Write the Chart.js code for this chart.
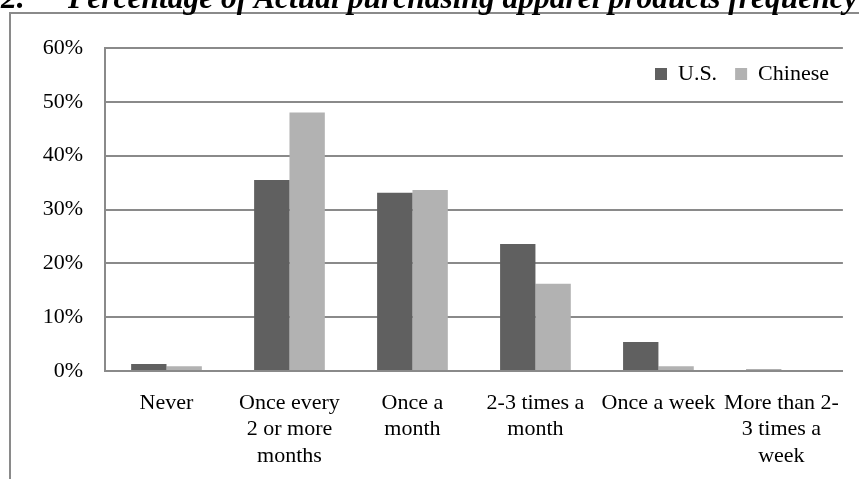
<!DOCTYPE html>
<html>
<head>
<meta charset="utf-8">
<script src="https://cdn.jsdelivr.net/npm/chart.js"></script>
<style>
  body { margin: 0; background: #fff; }
  #wrap { position: relative; width: 859px; height: 479px; overflow: hidden; }
  .title { position: absolute; top: -18px; font-family: "Liberation Serif", serif; font-weight: bold; font-style: italic; font-size: 31.5px; line-height: 31.5px; white-space: nowrap; color: #000; }
  canvas { position: absolute; left: 0; top: 0; }
</style>
</head>
<body>
<div id="wrap">
  <canvas id="myChart" width="859" height="479"></canvas>
  <div class="title" style="left:1px">2.</div>
  <div class="title" style="left:68px">Percentage of Actual purchasing apparel products frequency</div>
</div>
<script>
// data
const categories = [
    ['Never'],
    ['Once every', '2 or more', 'months'],
    ['Once a', 'month'],
    ['2-3 times a', 'month'],
    ['Once a week'],
    ['More than 2-', '3 times a', 'week']
];
const usValues = [1.3, 35.5, 33.1, 23.6, 5.4, 0.3];
const chineseValues = [0.9, 48.0, 33.6, 16.2, 0.9, 0];
const yTicks = [0, 10, 20, 30, 40, 50, 60];

const serif = 'Liberation Serif';
const gridColor = '#8a8a8a';

// outer frame (left + top lines of the figure box)
const framePlugin = {
    id: 'frame',
    beforeDraw(chart) {
        const c = chart.ctx;
        c.save();
        c.strokeStyle = gridColor;
        c.lineWidth = 2;
        c.beginPath();
        c.moveTo(10, 479);
        c.lineTo(10, 13);
        c.lineTo(859, 13);
        c.stroke();
        c.restore();
    }
};

// legend sits inside the plot, top right -> move it down after layout
const legendMove = {
    id: 'legendMove',
    afterLayout(chart) {
        const lg = chart.legend;
        if (!lg) return;
        const dy = 74 - (lg.top + 18 + 11);
        lg.top += dy;
        lg.bottom += dy;
        lg.left += 2;
        lg.right += 2;
    }
};

const ctx = document.getElementById('myChart');

const config = {
    type: 'bar',
    data: {
        labels: categories,
        datasets: [{
            label: 'U.S.',
            data: usValues,
            backgroundColor: '#606060',
            categoryPercentage: 0.575,
            barPercentage: 1.0
        }, {
            label: 'Chinese',
            data: chineseValues,
            backgroundColor: '#b2b2b2',
            categoryPercentage: 0.575,
            barPercentage: 1.0
        }]
    },
    plugins: [framePlugin, legendMove],
    options: {
        responsive: false,
        animation: false,
        layout: {
            padding: { top: -2, right: 14, bottom: 0, left: 0 }
        },
        plugins: {
            tooltip: { enabled: false },
            legend: {
                position: 'top',
                align: 'end',
                labels: {
                    color: '#000',
                    font: { family: serif, size: 22 },
                    boxWidth: 12,
                    boxHeight: 12,
                    padding: 18
                }
            }
        },
        scales: {
            x: {
                grid: { display: false, drawTicks: false },
                border: { display: true, color: gridColor, width: 2 },
                ticks: {
                    color: '#000',
                    font: { family: serif, size: 22 },
                    maxRotation: 0,
                    minRotation: 0,
                    autoSkip: false,
                    padding: 19
                },
                afterFit: (scale) => { scale.height = 108; }
            },
            y: {
                min: yTicks[0],
                max: yTicks[yTicks.length - 1],
                grid: { color: gridColor, lineWidth: 2, drawTicks: false },
                border: { display: true, color: gridColor, width: 2 },
                afterBuildTicks: (scale) => { scale.ticks = yTicks.map(v => ({ value: v })); },
                ticks: {
                    color: '#000',
                    font: { family: serif, size: 22 },
                    padding: 22,
                    callback: (v) => v + '%'
                },
                afterFit: (scale) => { scale.width = 105; }
            }
        }
    }
};

const chart = new Chart(ctx, config);
</script>
</body>
</html>
